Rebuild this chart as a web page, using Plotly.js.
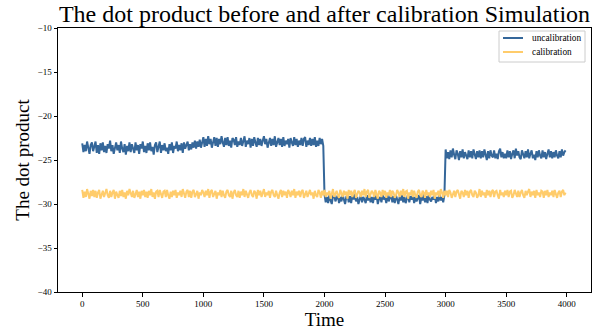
<!DOCTYPE html>
<html>
<head>
<meta charset="utf-8">
<script src="https://cdn.plot.ly/plotly-3.0.1.min.js"></script>
<style>
  html, body { margin: 0; padding: 0; background: #fff; }
  #chart { width: 604px; height: 333px; }
</style>
</head>
<body>
<div id="chart"></div>
<script>
// Sample clock: one reading every 10 time units
const sampleStep = 10;

// Dot product without calibration (readings at t = 0, 10, ..., 3990)
const uncalibration = [
  // t = 0 .. 990
  -23.1,-24.1,-23.3,-24.0,-22.9,-23.9,-24.3,-23.3,-23.0,-24.0,
  -23.5,-22.9,-24.2,-23.3,-24.3,-23.1,-23.9,-23.0,-24.1,-23.4,
  -24.2,-23.2,-23.7,-22.8,-24.0,-23.3,-24.3,-23.6,-23.0,-23.9,
  -23.3,-24.2,-22.9,-23.7,-24.1,-23.2,-24.4,-23.4,-24.0,-23.0,
  -24.1,-23.2,-23.6,-24.2,-23.0,-23.9,-23.3,-24.3,-23.2,-23.7,
  -22.9,-24.1,-23.4,-24.2,-23.1,-23.9,-23.0,-24.0,-23.5,-24.4,
  -23.3,-23.0,-24.1,-23.6,-22.9,-24.2,-23.3,-23.9,-23.1,-24.0,
  -23.6,-24.3,-23.2,-23.9,-23.0,-24.2,-23.4,-23.7,-22.9,-24.0,
  -23.3,-23.9,-23.1,-24.2,-23.0,-23.7,-23.3,-22.9,-23.9,-23.2,
  -23.8,-23.0,-23.6,-22.8,-23.7,-22.9,-23.5,-22.7,-23.6,-23.0,
  // t = 1000 .. 1990
  -22.4,-23.5,-22.6,-23.4,-22.3,-23.2,-22.6,-23.6,-22.8,-22.4,
  -23.4,-22.5,-23.5,-22.6,-23.2,-22.3,-23.0,-23.5,-22.5,-23.3,
  -22.4,-23.4,-22.8,-23.6,-22.5,-22.7,-23.3,-22.4,-23.5,-22.9,
  -23.3,-22.5,-23.4,-22.6,-22.3,-23.5,-22.8,-23.2,-22.5,-23.6,
  -22.6,-23.4,-22.4,-23.0,-23.5,-22.5,-23.3,-22.6,-23.4,-22.8,
  -22.3,-23.2,-22.6,-23.6,-22.8,-22.5,-23.4,-22.6,-23.3,-22.3,
  -23.5,-22.8,-22.5,-23.3,-22.6,-23.5,-22.4,-23.4,-22.8,-23.2,
  -22.6,-23.6,-22.5,-23.0,-23.4,-22.4,-23.3,-22.6,-23.5,-22.8,
  -23.3,-22.5,-23.4,-22.6,-22.4,-23.5,-22.8,-23.3,-22.5,-23.4,
  -22.6,-23.3,-22.4,-23.5,-22.8,-23.4,-22.5,-23.2,-22.6,-23.4,
  // t = 2000 .. 2990
  -28.9,-29.8,-29.2,-29.9,-29.0,-29.6,-30.0,-29.1,-28.9,-29.7,
  -29.4,-29.0,-29.9,-29.2,-29.7,-28.9,-29.5,-30.0,-29.2,-29.0,
  -29.8,-29.1,-29.9,-29.0,-29.5,-28.9,-29.7,-29.2,-30.0,-29.4,
  -29.0,-29.8,-29.2,-29.5,-29.9,-29.0,-29.6,-28.9,-29.8,-29.2,
  -29.9,-29.1,-29.5,-29.0,-30.0,-29.4,-29.2,-29.8,-28.9,-29.5,
  -29.2,-29.9,-29.0,-29.7,-29.4,-28.9,-29.8,-29.1,-29.9,-29.0,
  -29.5,-30.0,-29.2,-29.6,-29.0,-29.8,-29.2,-29.9,-29.4,-28.9,
  -29.8,-29.1,-29.5,-29.0,-29.9,-29.2,-29.7,-29.4,-29.0,-30.0,
  -29.2,-29.6,-28.9,-29.8,-29.1,-29.9,-29.0,-29.5,-29.7,-29.2,
  -29.5,-29.0,-29.9,-29.2,-29.7,-28.9,-29.6,-29.2,-29.8,-29.0,
  // t = 3000 .. 3990
  -23.8,-24.8,-24.1,-24.9,-23.9,-24.7,-23.7,-24.4,-24.9,-23.9,
  -24.3,-25.0,-24.0,-24.7,-23.8,-24.8,-24.1,-24.5,-24.9,-23.9,
  -24.7,-24.0,-24.8,-23.8,-24.4,-24.9,-24.0,-24.7,-23.9,-24.8,
  -24.0,-24.7,-23.8,-24.4,-25.0,-24.0,-24.8,-23.9,-24.5,-24.7,
  -23.9,-24.8,-24.3,-24.9,-24.0,-23.7,-24.7,-24.1,-24.8,-24.3,
  -24.8,-23.9,-24.7,-24.0,-24.9,-24.3,-23.9,-24.8,-23.7,-24.5,
  -24.0,-24.7,-24.9,-23.9,-24.4,-24.8,-24.0,-24.7,-23.8,-24.8,
  -24.3,-23.9,-24.8,-24.4,-25.0,-24.0,-24.7,-23.9,-24.5,-24.8,
  -23.9,-24.7,-24.1,-24.9,-24.3,-23.8,-24.7,-24.0,-24.8,-24.1,
  -24.7,-23.9,-24.5,-24.8,-24.0,-24.7,-23.8,-24.5,-24.1,-23.9
];

// Dot product after calibration (same sample clock)
const calibration = [
  -28.4,-29.3,-28.6,-29.2,-28.3,-29.0,-29.4,-28.5,-29.1,-28.4,
  -29.2,-28.5,-29.3,-28.7,-28.4,-29.4,-28.9,-28.5,-29.2,-28.6,
  -28.3,-29.0,-29.3,-28.5,-29.2,-28.7,-28.4,-29.4,-28.6,-29.0,
  -29.3,-28.5,-29.1,-28.4,-29.2,-28.7,-29.4,-28.5,-29.0,-28.3,
  -28.7,-29.2,-28.5,-29.3,-28.9,-28.4,-29.2,-28.6,-29.4,-28.5,
  -29.0,-28.4,-29.2,-28.6,-29.3,-28.5,-29.0,-28.3,-29.2,-28.7,
  -29.4,-28.6,-28.5,-29.2,-28.4,-29.0,-29.3,-28.6,-28.5,-29.2,
  -28.4,-29.0,-29.4,-28.6,-29.2,-28.5,-29.0,-28.4,-29.3,-28.7,
  -29.0,-28.5,-29.2,-28.3,-29.0,-29.3,-28.6,-28.4,-29.2,-28.5,
  -29.3,-28.6,-28.4,-29.2,-28.9,-28.5,-29.4,-28.7,-29.0,-28.4,
  -28.7,-29.2,-28.5,-29.0,-28.3,-29.3,-28.6,-28.4,-29.2,-28.9,
  -28.5,-29.4,-28.7,-29.0,-28.4,-29.2,-28.5,-29.0,-29.3,-28.6,
  -28.4,-29.0,-29.2,-28.5,-29.4,-28.7,-28.4,-29.0,-29.2,-28.5,
  -29.3,-28.6,-29.0,-28.3,-29.2,-28.5,-29.0,-29.3,-28.7,-28.4,
  -29.0,-29.2,-28.5,-28.7,-29.4,-28.4,-29.0,-28.5,-29.2,-28.6,
  -28.3,-29.2,-28.7,-29.0,-28.5,-29.3,-28.6,-28.4,-29.0,-29.2,
  -28.5,-29.0,-29.4,-28.7,-28.4,-29.2,-28.5,-29.0,-28.6,-29.3,
  -28.4,-28.7,-29.2,-28.5,-29.0,-28.3,-29.3,-28.6,-29.0,-28.5,
  -29.2,-28.6,-28.4,-29.3,-28.9,-28.5,-29.2,-28.7,-28.4,-29.0,
  -28.7,-29.4,-28.5,-29.0,-29.2,-28.4,-28.7,-29.3,-28.5,-29.0,
  -28.4,-29.2,-28.7,-29.0,-28.5,-29.4,-28.6,-28.3,-29.2,-28.9,
  -28.5,-29.0,-29.3,-28.4,-28.7,-29.2,-28.5,-29.0,-28.6,-29.4,
  -28.4,-29.0,-28.5,-29.2,-28.7,-28.4,-29.3,-29.0,-28.5,-28.7,
  -29.2,-28.5,-29.0,-28.3,-29.2,-28.6,-28.4,-29.3,-29.0,-28.5,
  -28.7,-29.2,-28.4,-29.0,-29.4,-28.5,-28.7,-29.2,-28.4,-29.0,
  -28.5,-29.3,-28.7,-29.0,-28.4,-29.2,-28.5,-28.7,-29.3,-29.0,
  -28.4,-28.7,-29.2,-28.5,-29.0,-28.3,-29.2,-28.6,-28.5,-29.4,
  -28.7,-29.0,-28.4,-29.2,-28.5,-29.0,-29.3,-28.6,-28.4,-29.0,
  -29.2,-28.5,-28.7,-29.3,-28.4,-29.0,-28.7,-29.2,-28.5,-29.0,
  -28.4,-29.4,-28.7,-29.0,-28.5,-29.2,-28.3,-28.7,-29.3,-28.5,
  -29.0,-28.5,-29.2,-28.4,-28.7,-29.3,-29.0,-28.5,-29.2,-28.6,
  -28.4,-29.0,-29.4,-28.5,-28.7,-29.2,-28.4,-29.0,-28.5,-29.3,
  -28.6,-28.4,-29.0,-29.2,-28.5,-28.7,-29.3,-29.0,-28.3,-29.2,
  -28.5,-29.0,-28.7,-29.3,-28.4,-29.0,-28.5,-29.2,-28.6,-28.4,
  -29.2,-28.6,-28.5,-29.0,-29.4,-28.4,-29.0,-28.7,-29.2,-28.5,
  -29.0,-28.4,-29.2,-28.6,-28.5,-29.3,-29.0,-28.4,-28.7,-29.2,
  -28.5,-29.2,-28.7,-28.4,-29.0,-29.3,-28.5,-29.0,-28.6,-28.3,
  -29.2,-28.6,-29.0,-28.5,-29.3,-28.4,-29.0,-28.7,-29.2,-28.5,
  -28.6,-29.3,-28.5,-29.0,-28.4,-29.2,-28.7,-29.0,-28.5,-29.2,
  -28.4,-29.0,-29.3,-28.7,-28.5,-29.2,-28.6,-28.4,-29.0,-28.7
];

const seriesNames = ['uncalibration', 'calibration'];
const seriesColors = ['#35679A', '#FFCC6B'];
const xTicks = [0, 500, 1000, 1500, 2000, 2500, 3000, 3500, 4000];
const yTicks = [-40, -35, -30, -25, -20, -15, -10];

const time = uncalibration.map((_, i) => i * sampleStep);

const serif = 'Liberation Serif, Times New Roman, serif';
const W = 604, H = 333;
const margin = { l: 58, r: 13, t: 28, b: 41 };

const traces = [
  {
    x: time, y: uncalibration, name: seriesNames[0],
    type: 'scatter', mode: 'lines',
    line: { color: seriesColors[0], width: 2 }
  },
  {
    x: time, y: calibration, name: seriesNames[1],
    type: 'scatter', mode: 'lines',
    line: { color: seriesColors[1], width: 2 }
  }
];

// Compact legend box in the upper-right corner, placed in pixel terms
const plotW = W - margin.l - margin.r;
const plotH = H - margin.t - margin.b;
const px = v => (v - margin.l) / plotW;
const py = v => (H - margin.b - v) / plotH;

const legendShapes = [
  {
    type: 'rect', xref: 'paper', yref: 'paper',
    x0: px(499), x1: px(585), y0: py(62), y1: py(31),
    fillcolor: 'rgba(255,255,255,0.8)', line: { color: '#cccccc', width: 1 }
  }
];
const legendNotes = [];
seriesNames.forEach((name, i) => {
  const rowY = 38 + i * 14;
  legendShapes.push({
    type: 'line', xref: 'paper', yref: 'paper',
    x0: px(503), x1: px(523), y0: py(rowY), y1: py(rowY),
    line: { color: seriesColors[i], width: 2 }
  });
  legendNotes.push({
    xref: 'paper', yref: 'paper', x: px(530), y: py(rowY),
    xanchor: 'left', yanchor: 'middle', showarrow: false,
    text: name, font: { family: serif, size: 9.3, color: '#000' }
  });
});

const axisCommon = {
  showline: true, mirror: true, linecolor: '#000', linewidth: 1,
  ticks: 'outside', ticklen: 3.5, tickwidth: 1, tickcolor: '#000',
  showgrid: false, zeroline: false,
  tickfont: { family: serif, size: 9, color: '#000' }
};

const layout = {
  width: W, height: H,
  margin: margin,
  paper_bgcolor: '#fff', plot_bgcolor: '#fff',
  font: { family: serif, color: '#000' },
  title: {
    text: 'The dot product before and after calibration Simulation',
    font: { family: serif, size: 24, color: '#000' },
    x: 0.5, xref: 'paper', xanchor: 'center',
    y: 1 - 14 / H, yref: 'container', yanchor: 'middle'
  },
  xaxis: Object.assign({}, axisCommon, {
    range: [-200, 4200], tickvals: xTicks,
    title: { text: 'Time', font: { family: serif, size: 19, color: '#000' }, standoff: 2 }
  }),
  yaxis: Object.assign({}, axisCommon, {
    range: [-40, -10], tickvals: yTicks,
    title: { text: 'The dot product', font: { family: serif, size: 19, color: '#000' }, standoff: 2 }
  }),
  showlegend: false,
  shapes: legendShapes,
  annotations: legendNotes
};

Plotly.newPlot('chart', traces, layout, { displayModeBar: false, staticPlot: true });
</script>
</body>
</html>
